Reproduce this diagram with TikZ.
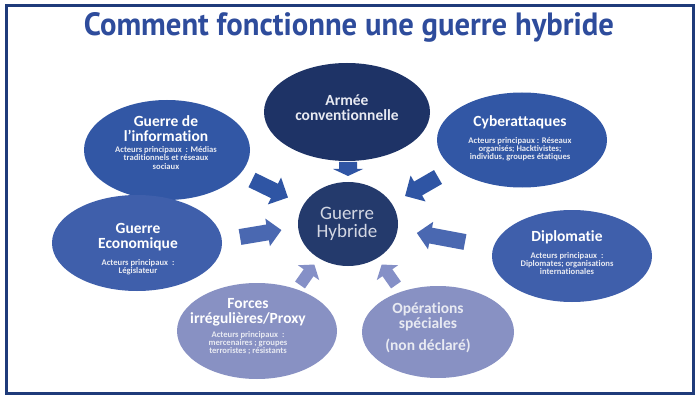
\documentclass[tikz,border=0pt]{standalone}
\usepackage{fontspec}
\setmainfont{Carlito}[Ligatures={NoCommon}]
\newfontfamily\titlefont{PT Sans}
\usetikzlibrary{shapes.geometric}
\definecolor{framec}{HTML}{1F3B7A}
\definecolor{titlec}{HTML}{2E4C9C}
\definecolor{midblue}{HTML}{3257A5}
\definecolor{litblue}{HTML}{3F5FAB}
\definecolor{armeec}{HTML}{1E3366}
\definecolor{hybc}{HTML}{243A6C}
\definecolor{lavc}{HTML}{8891C3}
\definecolor{arrA}{HTML}{2F55A4}
\definecolor{arrB}{HTML}{4A68B1}
\definecolor{arrC}{HTML}{8590C7}
\definecolor{softtxt}{HTML}{D3D7E3}
\definecolor{smalltxt}{HTML}{E8EAF2}
% #1 colour, #2 tail, #3 angle, #4 length, #5 shaft half width, #6 head half width, #7 head length
\newcommand\blockarrow[7]{%
  \fill[#1, shift={#2}, rotate=#3] (0,-#5) -- (#4-#7,-#5) -- (#4-#7,-#6) -- (#4,0)
    -- (#4-#7,#6) -- (#4-#7,#5) -- (0,#5) -- cycle;}
\tikzset{
  ell/.style={ellipse, inner sep=0pt, draw=none},
  bigtxt/.style={text=white, font=\bfseries\fontsize{15.5}{15}\selectfont, align=center, inner sep=0pt},
  smtxt/.style={text=smalltxt, font=\bfseries\fontsize{8.6}{8.2}\selectfont, align=center, inner sep=0pt},
}
\begin{document}
\begin{tikzpicture}[x=1pt,y=-1pt]
\useasboundingbox (0,0) rectangle (699,401);
\fill[white] (0,0) rectangle (699,401);
\draw[framec, line width=3pt] (6,5.5) rectangle (693.5,393);
\node[text=titlec, inner sep=0pt, anchor=base] (title) at (349,36)
  {\resizebox{530pt}{23pt}{\titlefont\bfseries\fontsize{30}{32}\selectfont Comment fonctionne une guerre hybride}};

% block arrows
\blockarrow{arrA}{(348,162)}{-90}{14}{9}{15}{7}
\blockarrow{arrA}{(252,180)}{-26}{40}{8}{15}{15}
\blockarrow{arrA}{(438,177)}{-150}{38}{8}{15}{15}
\blockarrow{arrB}{(240,237)}{9.5}{42}{8}{14}{14}
\blockarrow{arrB}{(465,242)}{169.4}{49}{8}{14}{14}
\blockarrow{arrC}{(300,285)}{55}{25}{6}{13}{10}
\blockarrow{arrC}{(396,285)}{125}{25}{6}{13}{10}

% ellipses
\node[ell, fill=armeec, minimum width=166pt, minimum height=98pt] (armee) at (347,112) {};
\node[ell, fill=hybc, minimum width=100pt, minimum height=84pt] (hyb) at (348,224) {};
\node[ell, fill=midblue, minimum width=166pt, minimum height=100pt] (info) at (167,150) {};
\node[ell, fill=midblue, minimum width=170pt, minimum height=95pt] (cyber) at (522,140) {};
\node[ell, fill=litblue, minimum width=170pt, minimum height=96pt] (eco) at (137,243) {};
\node[ell, fill=litblue, minimum width=160pt, minimum height=92pt] (diplo) at (572,256) {};
\node[ell, fill=lavc, minimum width=160pt, minimum height=96pt] (forces) at (257,331) {};
\node[ell, fill=lavc, minimum width=152pt, minimum height=92pt] (ops) at (438,332) {};

% texts
\node[bigtxt, text=smalltxt] (armeet) at (347,107.5) {Armée\\conventionnelle};
\node[inner sep=0pt, align=center, text=softtxt, font=\fontsize{19}{18}\selectfont] (hybt) at (347,224) {Guerre\\Hybride};
\node[bigtxt] (infot) at (166,128.5) {Guerre de\\l’information};
\node[smtxt] (infos) at (166,158) {Acteurs principaux~~: Médias\\traditionnels et réseaux\\sociaux};
\node[bigtxt] (cybert) at (520,122) {Cyberattaques};
\node[smtxt] (cybers) at (520,149) {Acteurs principaux : Réseaux\\organisés; Hacktivistes;\\individus, groupes étatiques};
\node[bigtxt] (ecot) at (138,237) {Guerre\\Economique};
\node[smtxt] (ecos) at (138,267) {Acteurs principaux~~:\\Législateur};
\node[bigtxt] (diplot) at (567,237) {Diplomatie};
\node[smtxt] (diplos) at (567,263.5) {Acteurs principaux~~:\\Diplomates; organisations\\internationales};
\node[bigtxt] (forcest) at (248,312) {Forces\\irrégulières/Proxy};
\node[smtxt] (forcess) at (248,343) {Acteurs principaux~~:\\mercenaires ; groupes\\terroristes ; résistants};
\node[bigtxt, text=smalltxt] (opst) at (428,317) {Opérations\\spéciales};
\node[bigtxt, text=smalltxt] (opsn) at (428,346) {(non déclaré)};
\end{tikzpicture}
\end{document}
